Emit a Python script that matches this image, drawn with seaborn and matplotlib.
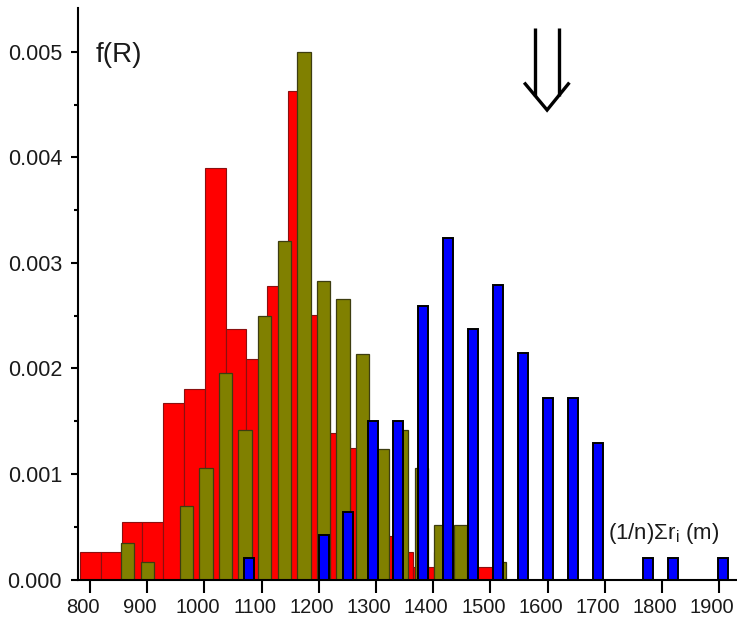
import numpy as np
import pandas as pd
import matplotlib
matplotlib.use("Agg")
import matplotlib.pyplot as plt
import matplotlib.transforms as mtransforms
from matplotlib.ticker import FormatStrFormatter, MultipleLocator
import seaborn as sns

# Distribution f(R) of the mean distance, three samples
red_x = [800.7, 837.0, 873.4, 909.8, 946.1, 982.5, 1018.8, 1055.2, 1091.6, 1127.9,
         1164.3, 1200.6, 1237.0, 1273.4, 1309.7, 1346.1, 1382.4, 1418.8, 1455.2, 1491.5]
red_f = [0.000265, 0.000265, 0.000543, 0.000543, 0.00167, 0.00181, 0.00390, 0.00237, 0.00209, 0.00278,
         0.00463, 0.00251, 0.00139, 0.00125, 0.00041, 0.000265, 0.00012, 0.000265, 0.00012, 0.00012]

olive_x = [865.9, 900.1, 934.3, 968.5, 1002.7, 1037.0, 1071.2, 1105.4, 1139.6, 1173.8,
           1208.0, 1242.2, 1276.4, 1310.6, 1344.8, 1379.1, 1413.3, 1447.5, 1481.7, 1515.9]
olive_f = [0.000344, 0.000164, 0.0, 0.000701, 0.00106, 0.001955, 0.00142, 0.00250, 0.00321, 0.00500,
           0.00283, 0.00266, 0.00214, 0.00124, 0.00142, 0.00106, 0.00052, 0.00052, 0.0, 0.000164]

blue_x = [1077.4, 1121.0, 1164.6, 1208.2, 1251.8, 1295.5, 1339.1, 1382.7, 1426.3, 1469.9,
          1513.5, 1557.1, 1600.7, 1644.3, 1688.0, 1731.6, 1775.2, 1818.8, 1862.4, 1906.0]
blue_f = [0.000202, 0.0, 0.0, 0.000422, 0.000637, 0.00150, 0.00150, 0.00259, 0.003235, 0.002377,
          0.002793, 0.002145, 0.00172, 0.00172, 0.001297, 0.0, 0.000206, 0.000206, 0.0, 0.000206]

x_ticks = [800, 900, 1000, 1100, 1200, 1300, 1400, 1500, 1600, 1700, 1800, 1900]
y_ticks = [0.000, 0.001, 0.002, 0.003, 0.004, 0.005]

sns.set_theme(style="ticks")
plt.rcParams["font.family"] = ["Liberation Sans", "DejaVu Sans"]
plt.rcParams["mathtext.fontset"] = "custom"
plt.rcParams["mathtext.rm"] = "Liberation Sans"
plt.rcParams["mathtext.it"] = "Liberation Sans"

fig = plt.figure(figsize=(7.37, 6.2), dpi=100)
ax = fig.add_axes([78 / 737, 40.5 / 620, (737 - 78) / 737, (612 - 40.5) / 620])


def draw_bars(xs, fs, rel_width, face, edge, lw):
    df = pd.DataFrame({"r": xs, "f": fs})
    df = df[df["f"] > 0]
    sns.barplot(data=df, x="r", y="f", native_scale=True, width=rel_width,
                color=face, saturation=1, edgecolor=edge, linewidth=lw,
                errorbar=None, ax=ax)


draw_bars(red_x, red_f, 1.0, "#ff0000", "#8a1010", 0.8)
draw_bars(olive_x, olive_f, 0.684, "#808000", "#3d3d10", 0.9)
draw_bars(blue_x, blue_f, 0.401, "#0000ff", "#000000", 1.4)

ax.set_xlim(779, 1931)
ax.set_ylim(0, 0.005417)
ax.set_xticks(x_ticks)
ax.set_yticks(y_ticks)
ax.yaxis.set_minor_locator(MultipleLocator(0.0005))
ax.yaxis.set_major_formatter(FormatStrFormatter("%.3f"))
ax.set_xlabel("")
ax.set_ylabel("")
sns.despine(ax=ax)
for side in ("left", "bottom"):
    ax.spines[side].set_linewidth(1.5)
    ax.spines[side].set_color("black")

ink = "#1a1a1a"
ax.tick_params(axis="x", which="major", length=9, width=1.5, direction="out",
               pad=4.5, labelsize=14.5, colors="black", labelcolor=ink)
ax.tick_params(axis="y", which="major", length=5, width=1.5, direction="out",
               pad=6.5, labelsize=15.5, colors="black", labelcolor=ink)
ax.tick_params(axis="y", which="minor", length=3, width=1.5, direction="out", colors="black")
ax.tick_params(axis="x", which="minor", length=0)

# Double down-arrow marking R = 1600
arrow_kw = dict(color="black", lw=2.4, clip_on=False, solid_capstyle="butt",
                solid_joinstyle="miter")
ax.plot([1578, 1578], [0.00523, 0.004586], **arrow_kw)
ax.plot([1620, 1620], [0.00523, 0.004586], **arrow_kw)
ax.plot([1559, 1599, 1638], [0.00471, 0.00445, 0.00471], **arrow_kw)

fig.text(96 / 737, 1 - 55 / 620, "f(R)", fontsize=20, color=ink, ha="left", va="center")
fig.text(608 / 737, 1 - 533 / 620, r"(1/n)Σ$\mathregular{r_i}$ (m)", fontsize=16,
         color=ink, ha="left", va="center")

# Shift the x tick labels slightly to the left of their ticks
fig.canvas.draw()
shift = mtransforms.ScaledTranslation(-7 / 100, 0, fig.dpi_scale_trans)
for tick in ax.xaxis.get_major_ticks():
    tick.label1.set_transform(tick.label1.get_transform() + shift)

fig.savefig("out.png", dpi=100)
